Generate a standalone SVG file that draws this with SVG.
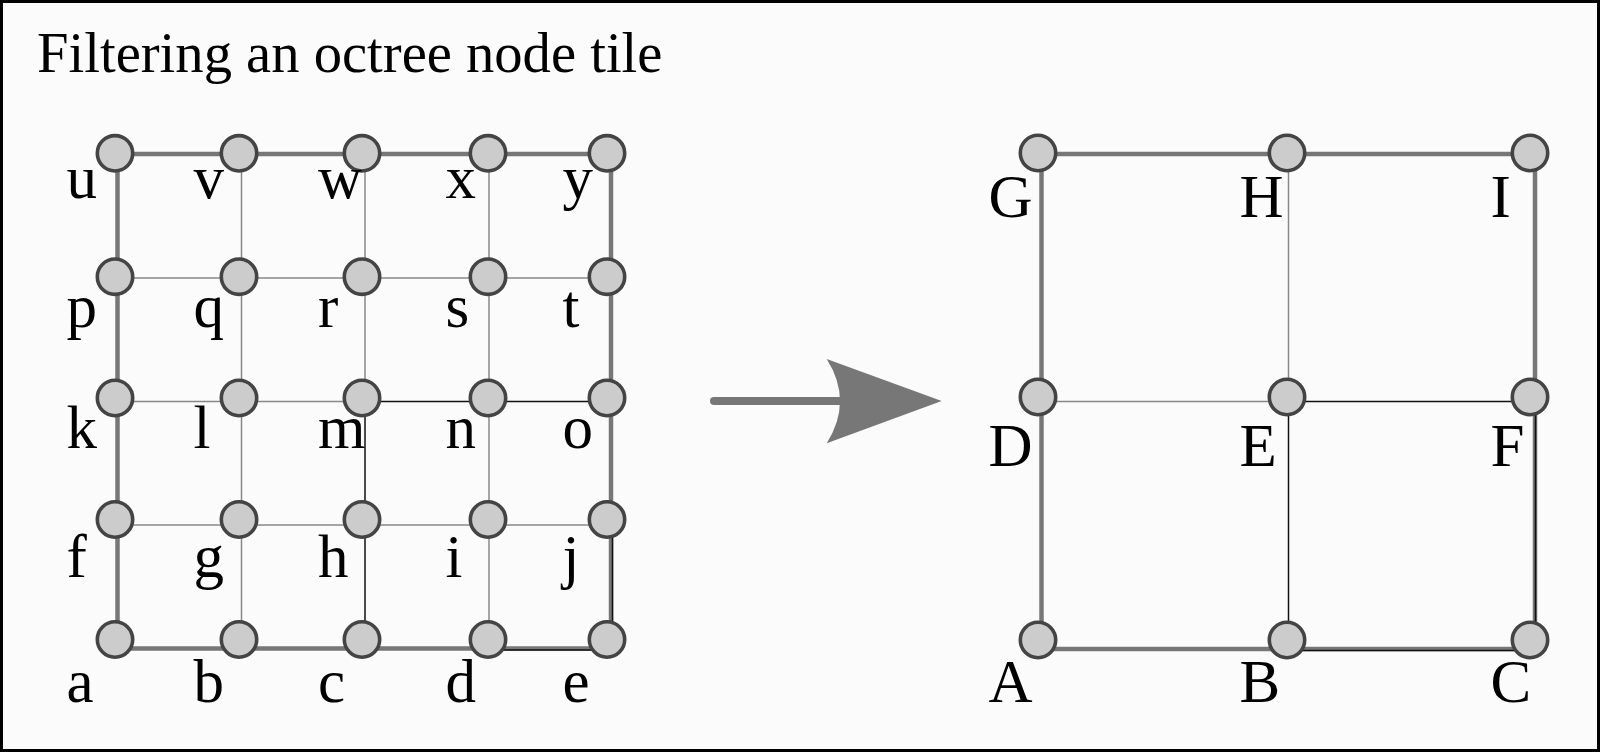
<svg xmlns="http://www.w3.org/2000/svg" width="1600" height="752" viewBox="0 0 1600 752">
<style>
.bg{fill:#fbfbfb;stroke:#000;stroke-width:3}
.title{font-family:"Liberation Serif","Times New Roman",serif;font-size:56.6px;fill:#000}
.lbl{font-family:"Liberation Serif","Times New Roman",serif;font-size:61px;fill:#000}
.pt{fill:#cccccc;stroke:#444;stroke-width:3.6}
.thick{stroke:#777;stroke-width:4.5;fill:none;stroke-linecap:square}
.thin{stroke:#888;stroke-width:1.5;fill:none}
.blk{stroke:#111;stroke-width:1.5;fill:none}
.arrow{stroke:#777;stroke-width:8;stroke-linecap:round;fill:none}
</style>
<rect class="bg" x="1.5" y="1.5" width="1597" height="749"/>
<text class="title" x="37" y="72">Filtering an octree node tile</text>

<g id="connectors">
  <line class="thin" x1="241.5" y1="154" x2="241.5" y2="648.5"/>
  <line class="thin" x1="365" y1="154" x2="365" y2="401.5"/>
  <line class="blk" x1="365" y1="401.5" x2="365" y2="648.5"/>
  <line class="thin" x1="489" y1="154" x2="489" y2="648.5"/>
  <line class="thin" x1="117.5" y1="278" x2="611" y2="278"/>
  <line class="thin" x1="117.5" y1="401.5" x2="365" y2="401.5"/>
  <line class="blk" x1="365" y1="401.5" x2="611" y2="401.5"/>
  <line class="thin" x1="117.5" y1="525" x2="611" y2="525"/>
  <line class="thick" x1="117.5" y1="154" x2="611" y2="154"/>
  <line class="thick" x1="117.5" y1="154" x2="117.5" y2="648.5"/>
  <line class="thick" x1="117.5" y1="648.5" x2="611" y2="648.5"/>
  <line class="thick" x1="611" y1="154" x2="611" y2="648.5"/>
  <line class="blk" x1="489" y1="650" x2="612" y2="650"/>
  <line class="blk" x1="612.5" y1="525" x2="612.5" y2="650"/>

  <line class="arrow" x1="714" y1="401" x2="845" y2="401"/>
  <path d="M941.7,401 L826.7,359 Q853.3,401 826.7,443.3 Z" fill="#777"/>

  <line class="thin" x1="1288.5" y1="154" x2="1288.5" y2="401.5"/>
  <line class="blk" x1="1288.5" y1="401.5" x2="1288.5" y2="649"/>
  <line class="thin" x1="1041.5" y1="401.5" x2="1288.5" y2="401.5"/>
  <line class="blk" x1="1288.5" y1="401.5" x2="1535" y2="401.5"/>
  <line class="thick" x1="1041.5" y1="154" x2="1535" y2="154"/>
  <line class="thick" x1="1041.5" y1="154" x2="1041.5" y2="649"/>
  <line class="thick" x1="1041.5" y1="649" x2="1535" y2="649"/>
  <line class="thick" x1="1535" y1="154" x2="1535" y2="649"/>
  <line class="blk" x1="1288.5" y1="650.5" x2="1536" y2="650.5"/>
  <line class="blk" x1="1535.5" y1="401.5" x2="1535.5" y2="650.5"/>
</g>

<g id="node-u"><circle class="pt" cx="115" cy="153.3" r="17.7"/><text class="lbl" x="66.5" y="198">u</text></g>
<g id="node-v"><circle class="pt" cx="239" cy="153.3" r="17.7"/><text class="lbl" x="193.5" y="198">v</text></g>
<g id="node-w"><circle class="pt" cx="362" cy="153.3" r="17.7"/><text class="lbl" x="318" y="198">w</text></g>
<g id="node-x"><circle class="pt" cx="488" cy="153.3" r="17.7"/><text class="lbl" x="445.5" y="198">x</text></g>
<g id="node-y"><circle class="pt" cx="607" cy="153.3" r="17.7"/><text class="lbl" x="562.5" y="198">y</text></g>

<g id="node-p"><circle class="pt" cx="115" cy="276.7" r="17.7"/><text class="lbl" x="66.5" y="327">p</text></g>
<g id="node-q"><circle class="pt" cx="239" cy="276.7" r="17.7"/><text class="lbl" x="193.5" y="327">q</text></g>
<g id="node-r"><circle class="pt" cx="362" cy="276.7" r="17.7"/><text class="lbl" x="318" y="327">r</text></g>
<g id="node-s"><circle class="pt" cx="488" cy="276.7" r="17.7"/><text class="lbl" x="445.5" y="327">s</text></g>
<g id="node-t"><circle class="pt" cx="607" cy="276.7" r="17.7"/><text class="lbl" x="562.5" y="327">t</text></g>

<g id="node-k"><circle class="pt" cx="115" cy="398" r="17.7"/><text class="lbl" x="66.5" y="448">k</text></g>
<g id="node-l"><circle class="pt" cx="239" cy="398" r="17.7"/><text class="lbl" x="193.5" y="448">l</text></g>
<g id="node-m"><circle class="pt" cx="362" cy="398" r="17.7"/><text class="lbl" x="318" y="448">m</text></g>
<g id="node-n"><circle class="pt" cx="488" cy="398" r="17.7"/><text class="lbl" x="445.5" y="448">n</text></g>
<g id="node-o"><circle class="pt" cx="607" cy="398" r="17.7"/><text class="lbl" x="562.5" y="448">o</text></g>

<g id="node-f"><circle class="pt" cx="115" cy="519.5" r="17.7"/><text class="lbl" x="66.5" y="577">f</text></g>
<g id="node-g"><circle class="pt" cx="239" cy="519.5" r="17.7"/><text class="lbl" x="193.5" y="577">g</text></g>
<g id="node-h"><circle class="pt" cx="362" cy="519.5" r="17.7"/><text class="lbl" x="318" y="577">h</text></g>
<g id="node-i"><circle class="pt" cx="488" cy="519.5" r="17.7"/><text class="lbl" x="445.5" y="577">i</text></g>
<g id="node-j"><circle class="pt" cx="607" cy="519.5" r="17.7"/><text class="lbl" x="562.5" y="577">j</text></g>

<g id="node-a"><circle class="pt" cx="115" cy="639.5" r="17.7"/><text class="lbl" x="66.5" y="702">a</text></g>
<g id="node-b"><circle class="pt" cx="239" cy="639.5" r="17.7"/><text class="lbl" x="193.5" y="702">b</text></g>
<g id="node-c"><circle class="pt" cx="362" cy="639.5" r="17.7"/><text class="lbl" x="318" y="702">c</text></g>
<g id="node-d"><circle class="pt" cx="488" cy="639.5" r="17.7"/><text class="lbl" x="445.5" y="702">d</text></g>
<g id="node-e"><circle class="pt" cx="607" cy="639.5" r="17.7"/><text class="lbl" x="562.5" y="702">e</text></g>

<g id="node-G"><circle class="pt" cx="1038" cy="153" r="17.7"/><text class="lbl" x="988.5" y="217">G</text></g>
<g id="node-H"><circle class="pt" cx="1287" cy="153" r="17.7"/><text class="lbl" x="1239.5" y="217">H</text></g>
<g id="node-I"><circle class="pt" cx="1530" cy="153" r="17.7"/><text class="lbl" x="1490.5" y="217">I</text></g>
<g id="node-D"><circle class="pt" cx="1038" cy="397" r="17.7"/><text class="lbl" x="988.5" y="466">D</text></g>
<g id="node-E"><circle class="pt" cx="1287" cy="397" r="17.7"/><text class="lbl" x="1239.5" y="466">E</text></g>
<g id="node-F"><circle class="pt" cx="1530" cy="397" r="17.7"/><text class="lbl" x="1490.5" y="466">F</text></g>
<g id="node-A"><circle class="pt" cx="1038" cy="640" r="17.7"/><text class="lbl" x="988.5" y="702">A</text></g>
<g id="node-B"><circle class="pt" cx="1287" cy="640" r="17.7"/><text class="lbl" x="1239.5" y="702">B</text></g>
<g id="node-C"><circle class="pt" cx="1530" cy="640" r="17.7"/><text class="lbl" x="1490.5" y="702">C</text></g>
</svg>
